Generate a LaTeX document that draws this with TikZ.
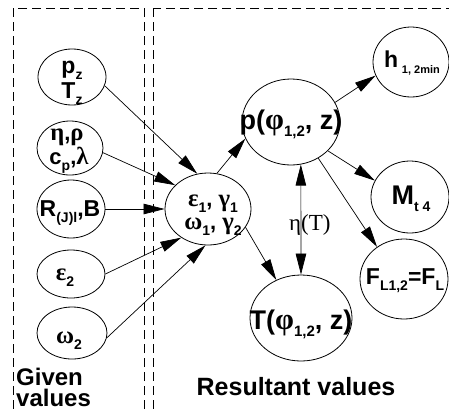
\documentclass[tikz,border=0pt]{standalone}
\usepackage{fontspec}
\setmainfont{Liberation Sans}
\newfontfamily\gkf{Liberation Serif}[Scale=1.12]
\newfontfamily\etaf{Liberation Serif}
\usetikzlibrary{shapes.geometric,arrows.meta}
\newcommand\gk[1]{{\gkf\bfseries #1}}
\newcommand\lo[2][13]{\raisebox{-0.28em}{\fontsize{#1}{#1}\selectfont #2}}
\newcommand\fs[1]{\fontsize{#1}{#1}\selectfont}
\begin{document}
\begin{tikzpicture}[x=1pt,y=-1pt,
  ov/.style={draw,ellipse,line width=0.8pt,inner sep=0pt},
  tx/.style={inner sep=0pt,anchor=base,font=\bfseries},
  arr/.style={-{Triangle[length=21pt,width=10.5pt]},line width=0.7pt},
  dbl/.style={{Triangle[length=21pt,width=10.5pt]}-{Triangle[length=21pt,width=10.5pt]},line width=0.7pt},
  dbox/.style={dash pattern=on 9pt off 5pt,line width=0.8pt}]
\useasboundingbox (0,0) rectangle (449,410);
\clip (0,0) rectangle (449,410);
\draw[dbox] (13,8) rectangle (144,430);
\draw[dbox] (153,8) rectangle (470,430);
% ellipses
\node[ov,minimum width=68pt,minimum height=56pt] (pz) at (72,77) {};
\node[ov,minimum width=66pt,minimum height=54pt] (er) at (70,148) {};
\node[ov,minimum width=68pt,minimum height=58pt] (R) at (71,209) {};
\node[ov,minimum width=68pt,minimum height=48pt] (eps) at (71,274) {};
\node[ov,minimum width=70pt,minimum height=52pt] (om) at (72,333) {};
\node[ov,minimum width=86pt,minimum height=72pt] (c) at (208,209) {};
\node[ov,minimum width=98pt,minimum height=86pt] (p) at (291,122) {};
\node[ov,minimum width=76pt,minimum height=70pt] (h) at (411,62) {};
\node[ov,minimum width=78pt,minimum height=72pt] (M) at (410,197) {};
\node[ov,minimum width=88pt,minimum height=80pt] (F) at (404,279) {};
\node[ov,minimum width=102pt,minimum height=86pt] (T) at (301,318) {};
% texts
\node[tx,font=\bfseries\fs{23}] (pz1) at (72,73) {p\lo[14]{z}};
\node[tx,font=\bfseries\fs{23}] (pz2) at (72,98) {T\lo[14]{z}};
\node[tx,font=\bfseries\fs{22}] (er1) at (67,140) {\gk{η},\gk{ρ}};
\node[tx,font=\bfseries\fs{22}] (er2) at (69,164) {c\lo[14]{p},\gk{λ}};
\node[tx,font=\bfseries\fs{23}] (Rt) at (70,216) {R\lo[14]{(J)l},B};
\node[tx,font=\bfseries\fs{22}] (epst) at (65,280) {\gk{ε}\lo[14]{2}};
\node[tx,font=\bfseries\fs{22}] (omt) at (69,343) {\gk{ω}\lo[14]{2}};
\node[tx,font=\bfseries\fs{22}] (c1) at (213,206) {\gk{ε}\lo[14]{1},\ \gk{γ}\lo[14]{1}};
\node[tx,font=\bfseries\fs{22}] (c2) at (213,229) {\gk{ω}\lo[14]{1},\ \gk{γ}\lo[14]{2}};
\node[tx,font=\bfseries\fs{27}] (pt) at (291,129) {p(\gk{φ}\lo[15]{1,2}, z)};
\node[tx,font=\bfseries\fs{27}] (Tt) at (301,329) {T(\gk{φ}\lo[15]{1,2}, z)};
\node[tx,font=\bfseries\fs{23}] (ht) at (412,67) {h\,\lo[11]{1, 2min}};
\node[tx,font=\bfseries\fs{27}] (Mt) at (411,204) {M\lo[14]{t 4}};
\node[tx,font=\bfseries\fs{23}] (Ft) at (405,284) {F\lo[14]{L1,2}=F\lo[14]{L}};
\node[tx,anchor=base west,font=\etaf\fs{23}] (eta) at (289,230) {η(T)};
\node[tx,anchor=base west,font=\bfseries\fs{24}] (g1) at (16,385) {Given};
\node[tx,anchor=base west,font=\bfseries\fs{24}] (g2) at (16,406) {values};
\node[tx,font=\bfseries\fs{25}] (res) at (296,395) {Resultant values};
% arrows
\draw[arr] (pz.-15) -- (c.107);
\draw[arr] (er.-8) -- (c.144);
\draw[arr] (R) -- (c);
\draw[arr] (eps.0) -- (c.227);
\draw[arr] (om.-8) -- (c.266);
\draw[arr] (c.76) -- (p.200);
\draw[arr] (c.-26) -- (T.123);
\draw[arr] (p.24) -- (h.201);
\draw[arr] (p.-38) -- (M.155);
\draw[arr] (p.-53) -- (F.130);
\draw[dbl] (p.-77) -- (T.north);
\end{tikzpicture}
\end{document}
